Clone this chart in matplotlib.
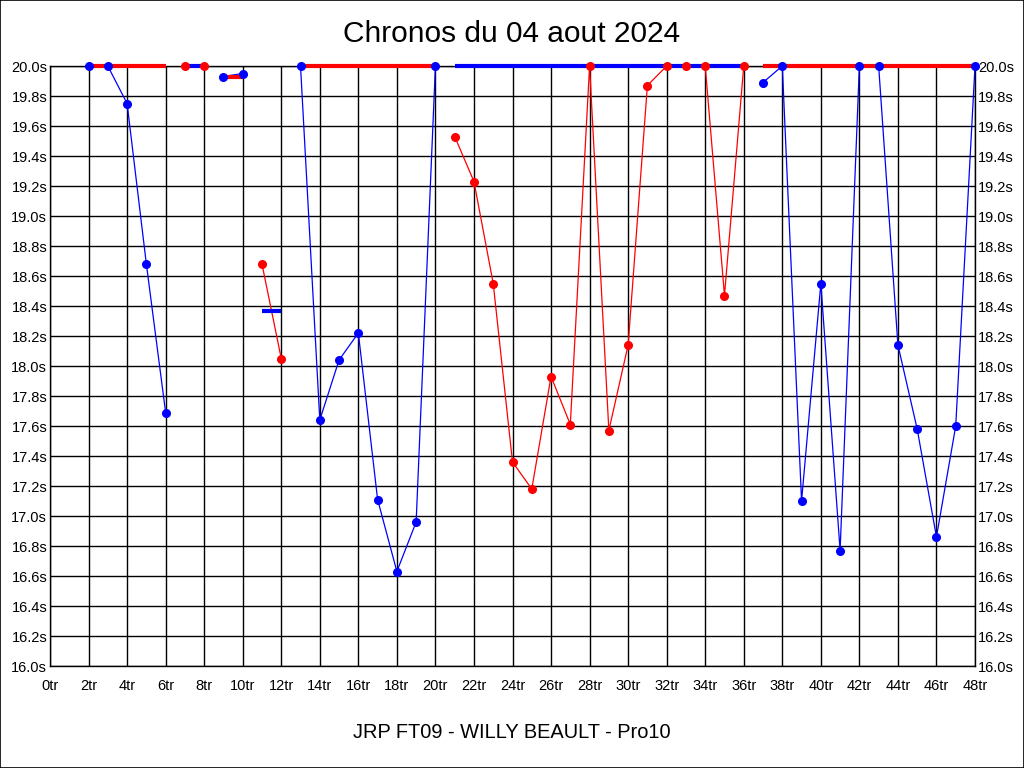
import matplotlib
matplotlib.use("Agg")
import matplotlib.pyplot as plt
from matplotlib.patches import Rectangle

plt.rcParams['font.family'] = ['Liberation Sans', 'DejaVu Sans']

title = "Chronos du 04 aout 2024"
subtitle = "JRP FT09 - WILLY BEAULT - Pro10"

# one entry per relais: first lap, lap times, colour of the points
stint_start = [2, 7, 9, 11, 13, 21, 37]
stint_color = ['blue', 'red', 'blue', 'red', 'blue', 'red', 'blue']
stint_times = [
    [20.0, 20.0, 19.75, 18.68, 17.69],
    [20.0, 20.0],
    [19.93, 19.95],
    [18.68, 18.05],
    [20.0, 17.64, 18.04, 18.22, 17.11, 16.63, 16.96, 20.0],
    [19.53, 19.23, 18.55, 17.36, 17.18, 17.93, 17.61, 20.0,
     17.57, 18.14, 19.87, 20.0, 20.0, 20.0, 18.47, 20.0],
    [19.89, 20.0, 17.10, 18.55, 16.77, 20.0, 20.0, 18.14,
     17.58, 16.86, 17.60, 20.0],
]
# mean of each relais (clipped at 20s), drawn in the other colour
stint_mean = [20.0, 20.0, 19.93, 18.37, 20.0, 20.0, 20.0]

x_ticks = list(range(0, 49, 2))
y_ticks = [16.0 + 0.2 * i for i in range(21)]

other = {'red': 'blue', 'blue': 'red'}

fig = plt.figure(figsize=(10.24, 7.68), dpi=100)
fig.patches.append(Rectangle((0, 0), 1, 1, transform=fig.transFigure,
                             fill=False, edgecolor='black', linewidth=1.2))
ax = fig.add_axes([50 / 1024, 102 / 768, 925 / 1024, 600 / 768])

for start, col, times, mean in zip(stint_start, stint_color, stint_times, stint_mean):
    laps = list(range(start, start + len(times)))
    ax.plot(laps, times, color=col, linewidth=0.9, zorder=3, clip_on=False)
    ax.plot([laps[0], laps[-1]], [mean, mean], color=other[col],
            linewidth=3, solid_capstyle='butt', zorder=4, clip_on=False)
    ax.plot(laps, times, linestyle='none', marker='o', markersize=5.5,
            color=col, zorder=5, clip_on=False)

ax.set_xlim(0, 48)
ax.set_ylim(16.0, 20.0)
ax.set_xticks(x_ticks)
ax.set_xticklabels([f"{x}tr" for x in x_ticks])
ax.set_yticks(y_ticks)
ax.set_yticklabels([f"{y:.1f}s" for y in y_ticks])
ax.tick_params(axis='both', length=0, labelsize=10.5, colors='black')
ax.tick_params(axis='x', pad=9)
ax.tick_params(axis='y', pad=2, labelright=True)
ax.grid(True, color='black', linewidth=1)
ax.set_axisbelow(True)
for sp in ax.spines.values():
    sp.set_color('black')
    sp.set_linewidth(1)

fig.text(0.5, 1 - 34 / 768, title, ha='center', va='center', fontsize=21.5)
fig.text(0.5, 1 - 732 / 768, subtitle, ha='center', va='center', fontsize=14.4)

fig.savefig("out.png", dpi=100)
